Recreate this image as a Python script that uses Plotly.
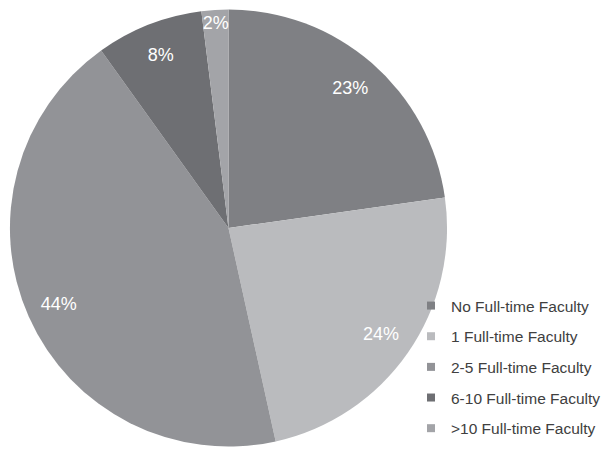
import plotly.graph_objects as go

# Share of programs by number of full-time faculty
categories = [
    "No Full-time Faculty",
    "1 Full-time Faculty",
    "2-5 Full-time Faculty",
    "6-10 Full-time Faculty",
    ">10 Full-time Faculty",
]
percent = [23, 24, 44, 8, 2]
colors = ["#7f8084", "#babbbe", "#929397", "#6e6f73", "#a3a4a8"]

W, H = 606, 449
FONT = "Liberation Sans, Arial, sans-serif"
pie_domain = dict(x=[10 / W, 450 / W], y=[1 / H, 441 / H])

fig = go.Figure()

# Solid slices
fig.add_trace(go.Pie(
    labels=categories,
    values=percent,
    sort=False,
    direction="clockwise",
    rotation=0,
    marker=dict(colors=colors, line=dict(width=0)),
    textinfo="none",
    showlegend=False,
    hoverinfo="label+value",
    domain=pie_domain,
))

# Transparent ring on top that carries the percentage labels near the rim
fig.add_trace(go.Pie(
    labels=categories,
    values=percent,
    sort=False,
    direction="clockwise",
    rotation=0,
    hole=0.7,
    marker=dict(colors=["rgba(0,0,0,0)"] * len(percent), line=dict(width=0)),
    texttemplate="%{value}%",
    textposition="inside",
    insidetextorientation="horizontal",
    textfont=dict(family=FONT, size=18, color="white"),
    showlegend=False,
    hoverinfo="skip",
    domain=pie_domain,
))

# Legend entries, one group each so the rows can be spaced apart
for name, col in zip(categories, colors):
    fig.add_trace(go.Scatter(
        x=[None], y=[None], mode="markers", name=name, legendgroup=name,
        marker=dict(symbol="square", size=8, color=col),
    ))

fig.update_layout(
    width=W, height=H,
    margin=dict(l=0, r=0, t=0, b=0),
    paper_bgcolor="white",
    plot_bgcolor="white",
    xaxis=dict(visible=False),
    yaxis=dict(visible=False),
    showlegend=True,
    uniformtext=dict(minsize=18, mode="show"),
    legend=dict(
        x=414 / W, y=1 - 289 / H, xanchor="left", yanchor="top",
        font=dict(family=FONT, size=15.5, color="#404040"),
        tracegroupgap=7.5, itemwidth=30, bgcolor="rgba(0,0,0,0)",
    ),
)

fig.write_html("out.html")
